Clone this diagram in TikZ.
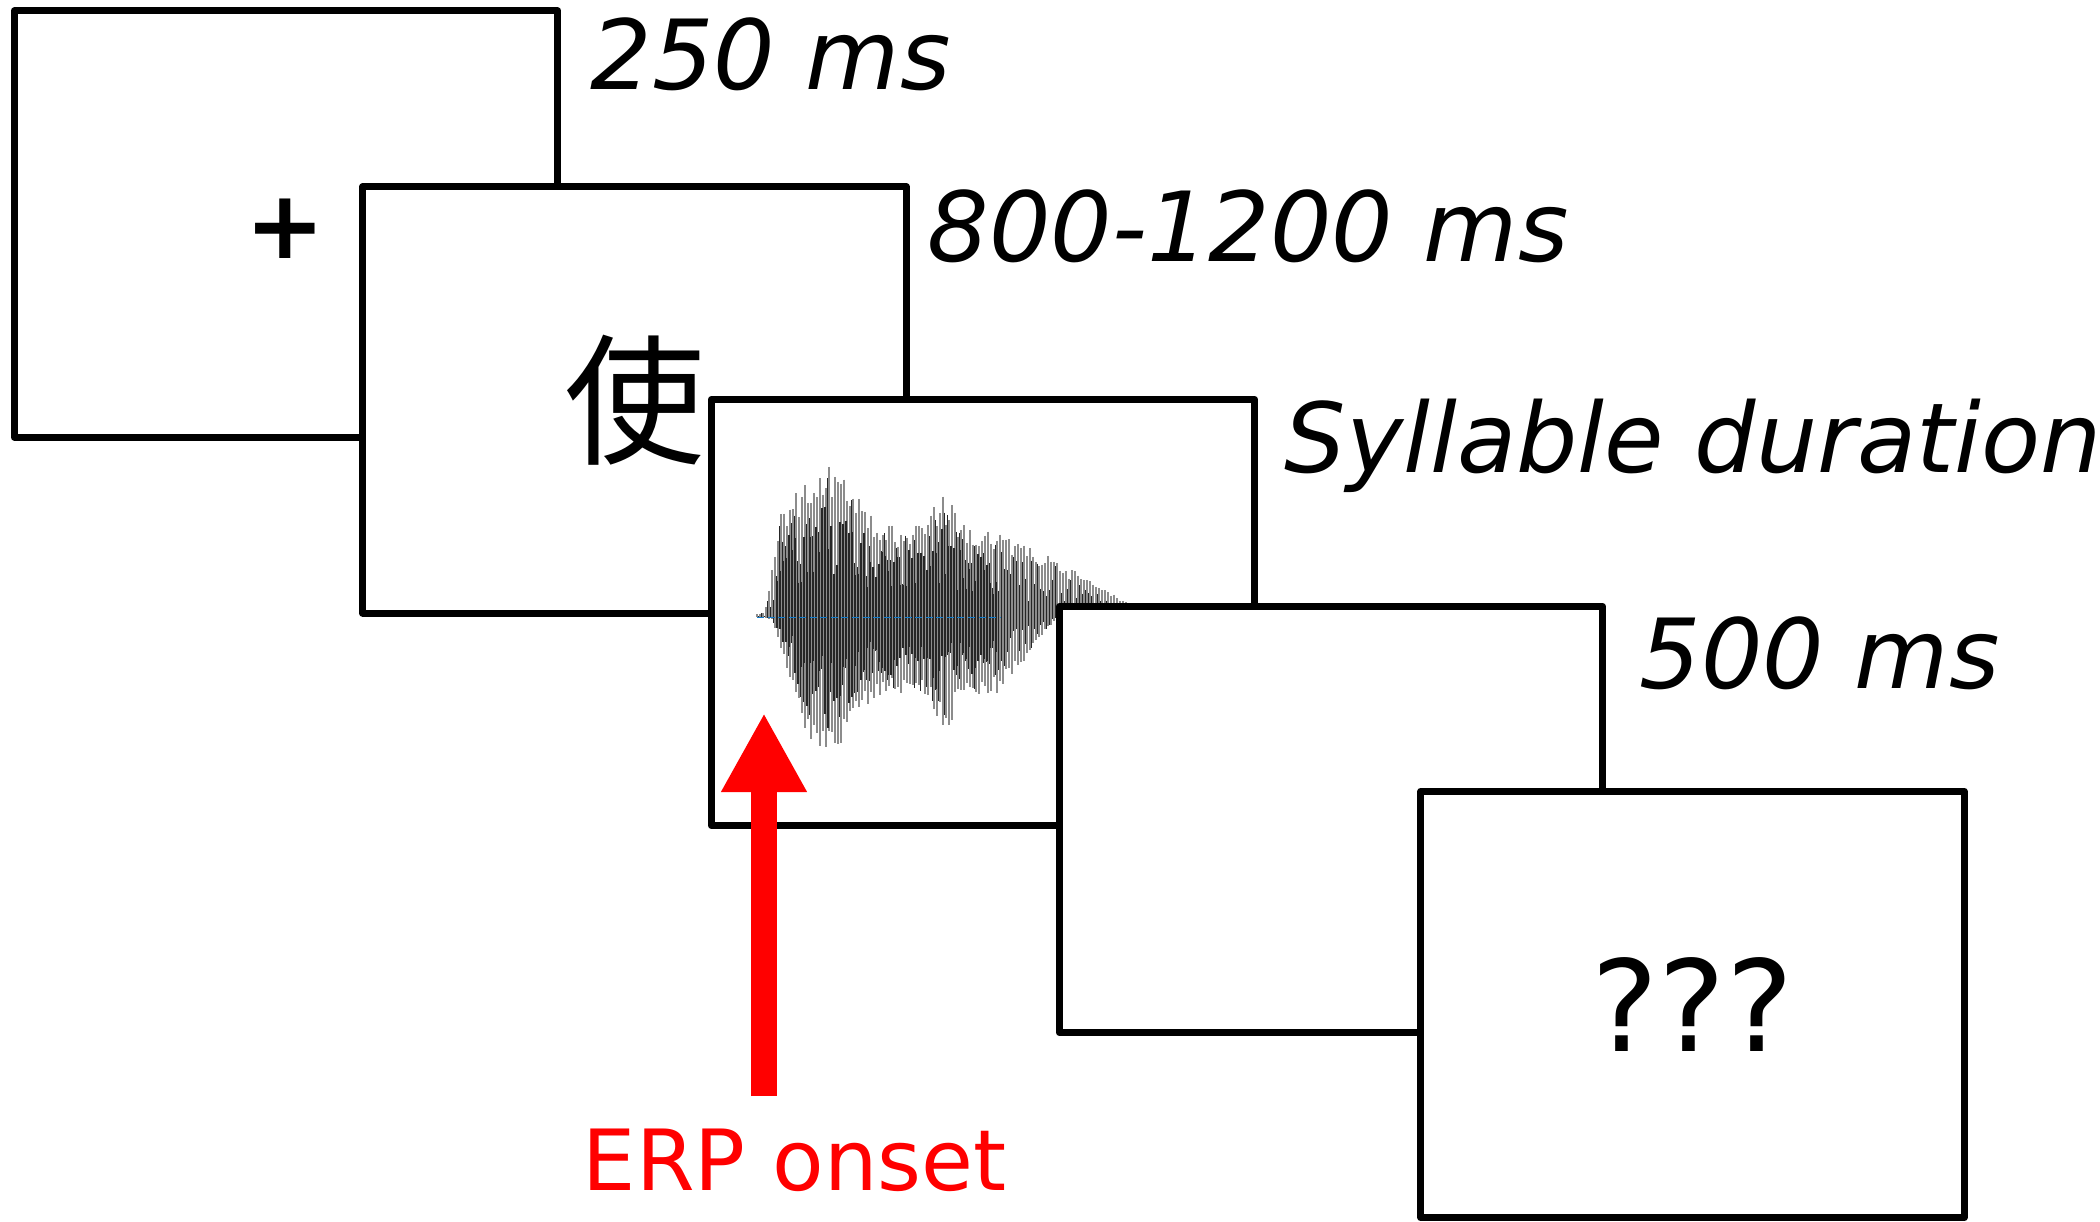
\documentclass[tikz,border=0pt]{standalone}
\usepackage{fontspec}
\setmainfont{DejaVu Sans}
\newfontfamily\cjkfont{Noto Sans CJK SC}
\usetikzlibrary{arrows.meta}
\definecolor{onsetred}{RGB}{255,0,0}

\begin{document}
\begin{tikzpicture}[
x=0.01cm, y=-0.01cm,
screen/.style={
draw,
line width=2pt,
line join=round,
fill=white,
minimum width=5.43cm,
minimum height=4.26cm,
inner sep=0pt
},
dur/.style={anchor=base west, inner sep=0pt, font=\fontsize{27.5}{31}\selectfont\itshape},
wavegray/.style={line width=0.3pt, black!45},
waveblack/.style={line width=0.3pt, black!85},
erparrow/.style={draw=onsetred, line width=0.26cm, -{Triangle[width=0.8cm,length=0.79cm]}},
declare function={
gs(\ga,\gb)=exp(-min(20,(\ga/\gb)*(\ga/\gb)));
wup(\za)=90*max(0,min(1,(\za-8)/15,(400-\za)/160))+65*gs(\za-70,40)+35*gs(\za-185,15);
wlo(\za)=80*max(0,min(1,(\za-15)/30,(300-\za)/60))+70*gs(\za-68,30)+30*gs(\za-188,15);
}
]
\useasboundingbox (0,0) rectangle (2100,1222);
\pgfmathsetseed{11}

% fixation
\node[screen] (fix) at (286,224) {};
\node[font=\bfseries\fontsize{27}{30}\selectfont, inner sep=0pt] (cross) at (285,229) {+};

% visual word
\node[screen, font=\cjkfont\fontsize{40}{40}\selectfont] (word) at (634.5,400) {使};

% auditory syllable
\node[screen] (sound) at (983,612.5) {};
\foreach \wx in {0,3,...,390}{
\pgfmathsetmacro\wt{wup(\wx)*(0.75+0.25*rnd)}
\pgfmathsetmacro\wb{wlo(\wx)*(0.75+0.25*rnd)}
\draw[wavegray] (757+\wx,617-\wt) -- (757+\wx,617+\wb);
}
\foreach \wx in {1.5,4.5,...,388}{
\pgfmathsetmacro\wt{wup(\wx)*(0.2+0.7*rnd)}
\pgfmathsetmacro\wb{wlo(\wx)*(0.2+0.7*rnd)}
\draw[waveblack] (757+\wx,617-\wt) -- (757+\wx,617+\wb);
}
\foreach \wx in {20,23,...,240}{
\pgfmathsetmacro\wt{wup(\wx)*(0.25+0.5*rnd)}
\pgfmathsetmacro\wb{wlo(\wx)*(0.25+0.5*rnd)}
\draw[waveblack] (757+\wx,617-\wt) -- (757+\wx,617+\wb);
}
\draw[cyan!60!blue, line width=0.25pt, dash pattern=on 2pt off 1pt] (757,617) -- (1000,617);

% blank and probe
\node[screen] (blank) at (1331,819.5) {};
\node[screen, font=\fontsize{36}{40}\selectfont] (probe) at (1692.5,1004.5) {???};

% durations
\node[dur] (t1) at (590,90) {250 ms};
\node[dur] (t2) at (927,262) {800-1200 ms};
\node[dur] (t3) at (1284,473) {Syllable duration};
\node[dur] (t4) at (1639,689) {500 ms};

% onset marker
\coordinate (foot) at (764,1096);
\coordinate (onset) at (764,713);
\draw[erparrow] (foot) -- (onset);
\node[anchor=base west, inner sep=0pt, text=onsetred, font=\fontsize{24}{28}\selectfont] (erp) at (582,1190) {ERP onset};

\end{tikzpicture}
\end{document}
